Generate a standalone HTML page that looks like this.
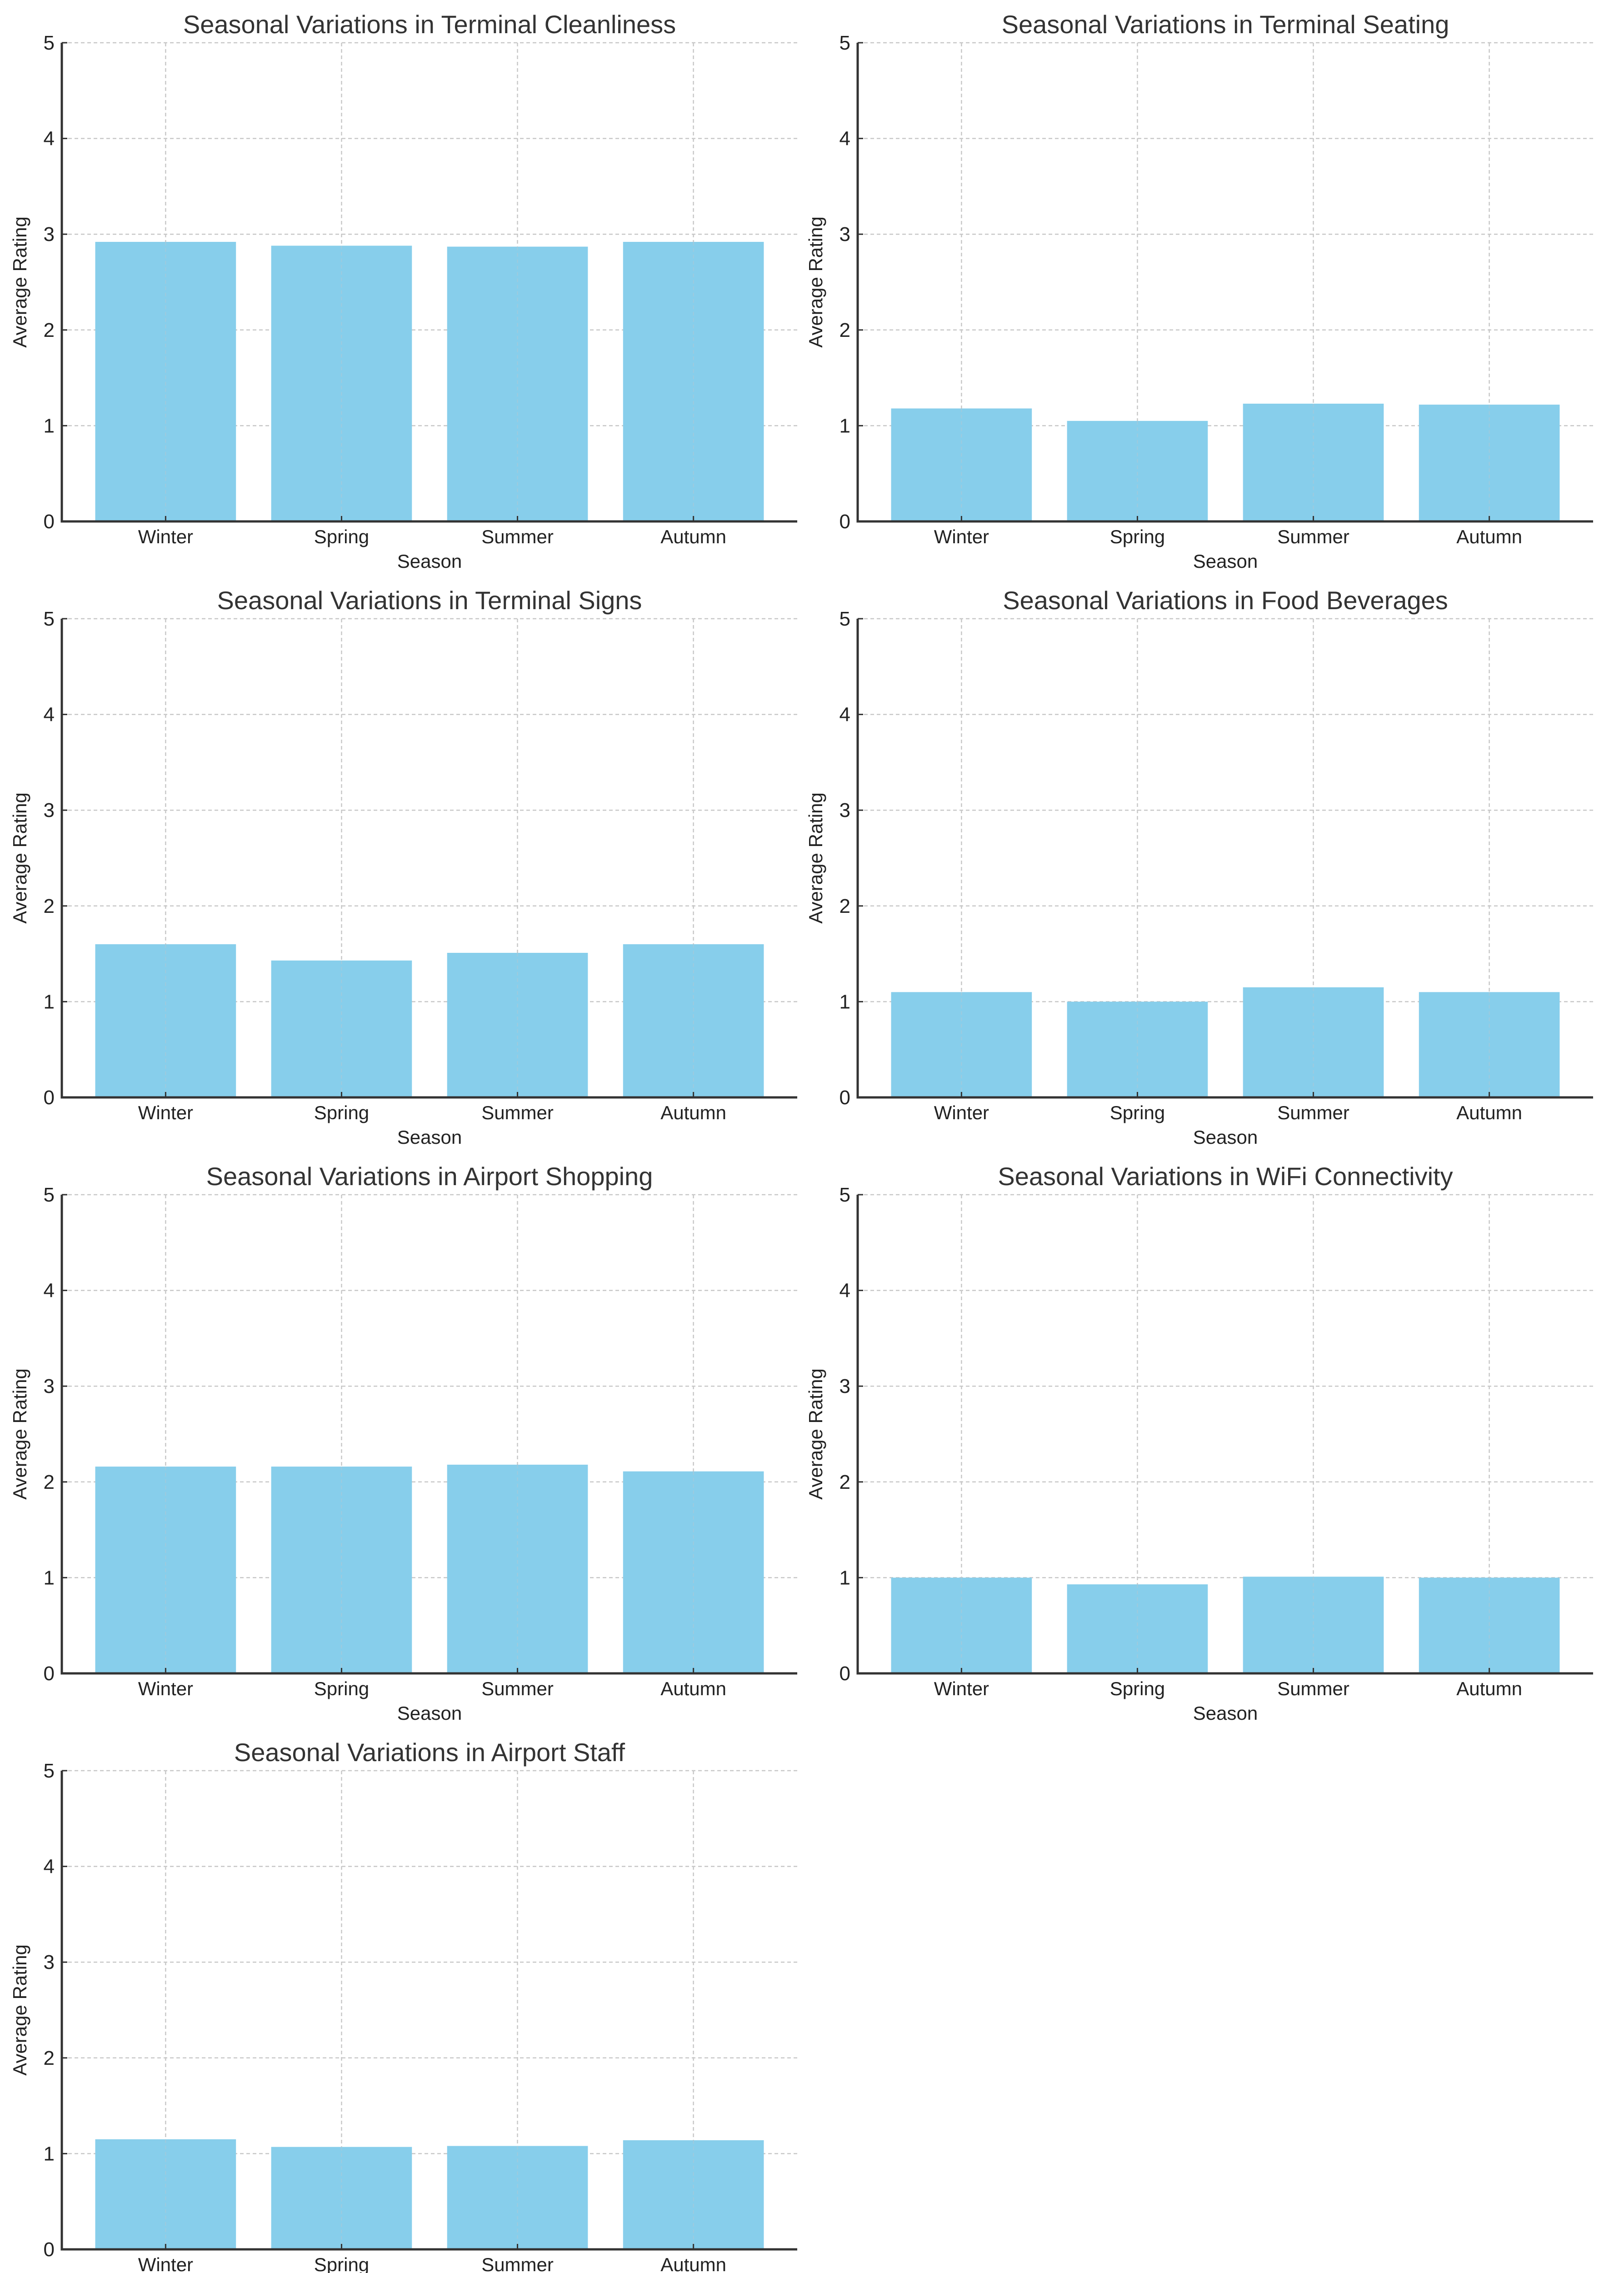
<!DOCTYPE html>
<html><head><meta charset="utf-8"><style>html,body{margin:0;padding:0;background:#fff;overflow:hidden}svg{display:block}</style></head>
<body>
<svg id="fig" width="3573" height="5117" viewBox="0 0 3573 5117" xmlns="http://www.w3.org/2000/svg" font-family="Liberation Sans, sans-serif"></svg>
<script>
const categories = ["Winter","Spring","Summer","Autumn"];
const titles = ["Seasonal Variations in Terminal Cleanliness","Seasonal Variations in Terminal Seating","Seasonal Variations in Terminal Signs","Seasonal Variations in Food Beverages","Seasonal Variations in Airport Shopping","Seasonal Variations in WiFi Connectivity","Seasonal Variations in Airport Staff"];
const cleanliness = [2.92, 2.88, 2.87, 2.92];
const seating = [1.18, 1.05, 1.23, 1.22];
const signs = [1.60, 1.43, 1.51, 1.60];
const food = [1.10, 1.00, 1.15, 1.10];
const shopping = [2.16, 2.16, 2.18, 2.11];
const wifi = [1.00, 0.93, 1.01, 1.00];
const staff = [1.15, 1.07, 1.08, 1.14];
const yTicks = [0,1,2,3,4,5];

const series = [cleanliness, seating, signs, food, shopping, wifi, staff];
const NS = "http://www.w3.org/2000/svg";
const fig = document.getElementById('fig');
function mk(tag, attrs, parent){const e=document.createElementNS(NS,tag);for(const k in attrs)e.setAttribute(k,attrs[k]);parent.appendChild(e);return e;}

series.forEach((vals, i) => {
  const col = i % 2, row = Math.floor(i / 2);
  const L = col ? 1887 : 136, W = 1618, T = 94 + row * 1267, H = 1053, B = T + H;
  const g = mk('g', {}, fig);
  
  
  const x = v => L + (v + 0.59) * (W / 4.18);
  const y = v => B - v / 5 * H;
  yTicks.forEach(t => {
    const gl = mk('line', {x1:L, x2:L+W, y1:y(t), y2:y(t), stroke:'#c8c8c8', 'stroke-width':2.5, 'stroke-dasharray':'8,6'}, g);
    
    
    const tl = mk('text', {x:L-16, y:y(t)+15, 'font-size':44, 'text-anchor':'end', fill:'#222'}, g);
    tl.textContent = t;
    
    
  });
  categories.forEach((c, j) => {
    const gl = mk('line', {x1:x(j), x2:x(j), y1:T, y2:B, stroke:'#c8c8c8', 'stroke-width':2.5, 'stroke-dasharray':'8,6'}, g);
    
    
  });
  vals.forEach((v, j) => {
    const bw = 0.8 * W / 4.18;
    const r = mk('rect', {x:x(j)-bw/2, y:y(v), width:bw, height:y(0)-y(v), fill:'#87ceeb'}, g);
    
    
    const gl = mk('line', {x1:x(j), x2:x(j), y1:y(v), y2:B, stroke:'#b0c8d4', 'stroke-width':2, 'stroke-dasharray':'8,6', opacity:0.6}, g);
    
    
    const tk = mk('line', {x1:x(j), x2:x(j), y1:B, y2:B-12, stroke:'#333', 'stroke-width':3}, g);
    
    
    const tl = mk('text', {x:x(j), y:B+48, 'font-size':42, 'text-anchor':'middle', fill:'#222'}, g);
    tl.textContent = categories[j];
    
    
  });
  const ax = mk('path', {d:`M${L} ${T} V${B} H${L+W}`, fill:'none', stroke:'#333', 'stroke-width':5}, g);
  
  
  yTicks.forEach(t => {
    const tk = mk('line', {x1:L, x2:L+12, y1:y(t), y2:y(t), stroke:'#333', 'stroke-width':3}, g);
    
    
  });
  const tt = mk('text', {x:L+W/2, y:T-21, 'font-size':56, 'text-anchor':'middle', fill:'#333'}, g);
  tt.textContent = titles[i];
  
  
  const xl = mk('text', {x:L+W/2, y:B+102, 'font-size':42, 'text-anchor':'middle', fill:'#222'}, g);
  xl.textContent = 'Season';
  
  
  const yl = mk('text', {x:0, y:0, 'font-size':42, 'text-anchor':'middle', fill:'#222', transform:`translate(${L-78},${T+H/2}) rotate(-90)`}, g);
  yl.textContent = 'Average Rating';
  
  
});
</script>
</body></html>
